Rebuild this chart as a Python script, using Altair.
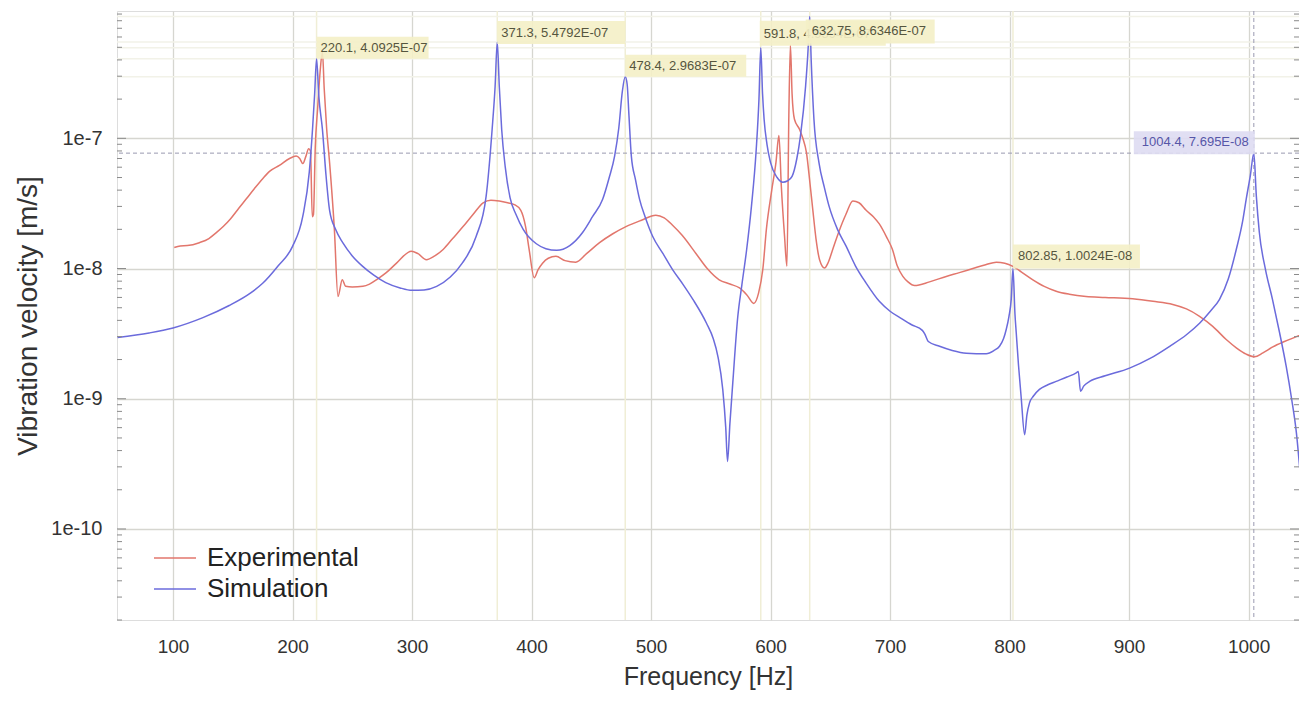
import altair as alt
import pandas as pd

# ---------------- data ----------------
sim_f = [53.6, 80, 100, 125, 147, 165, 175, 188, 200, 208.5, 214, 216.7, 218.5, 220.1, 222, 225,
         228, 231, 236, 242, 250, 258.7, 268, 278, 290, 300, 310, 320.6, 332, 342, 353.6, 362,
         367, 369.5, 371.3, 373, 375, 378, 382, 387, 393, 404, 412, 421, 432, 442.7, 451, 459.5,
         465, 469.5, 473, 476, 478.4, 480, 481.5, 483.5, 487, 490.4, 495, 501.3, 510, 518, 527,
         535, 546.4, 552, 556, 560, 562.5, 564, 566, 568.4, 572.6, 576, 580, 584, 588, 590.3,
         591.8, 593.3, 594.6, 597, 600, 605.5, 610.3, 614, 618, 622, 625, 629.3, 631.5, 632.75,
         634, 636.3, 640.5, 645, 649, 656, 663, 671, 679.7, 691, 700, 710, 718, 727, 729, 732,
         741.4, 752, 763.8, 780.5, 787, 791.6, 795, 797.2, 799.5, 801.4, 802.85, 804.5, 805.6,
         807.5, 809.8, 812.6, 814.5, 816.7, 820, 825, 832, 839, 848, 855.8, 857.5, 859.4, 862,
         867, 880, 900.4, 918, 934, 948, 959, 968, 975.7, 983, 989.7, 995, 998, 1001.5, 1004.4,
         1006.5, 1009, 1014, 1020, 1026, 1031.5, 1036, 1040, 1043, 1045.7]
sim_v = [2.95e-9, 3.2e-9, 3.5e-9, 4.2e-9, 5.2e-9, 6.5e-9, 7.7e-9, 1.05e-8, 1.48e-8, 2.5e-8,
         5.5e-8, 1.17e-7, 2.2e-7, 4.0925e-7, 2.1e-7, 1.17e-7,
         5.2e-8, 2.8e-8, 2.0e-8, 1.58e-8, 1.25e-8, 1.04e-8, 8.9e-9, 7.8e-9, 7.1e-9, 6.8e-9,
         6.85e-9, 7.3e-9, 8.6e-9, 1.1e-8, 1.76e-8, 3.6e-8,
         1.17e-7, 2.5e-7, 5.4792e-7, 2.5e-7, 1.17e-7, 6.0e-8, 3.5e-8, 2.6e-8, 2.0e-8, 1.55e-8,
         1.42e-8, 1.38e-8, 1.5e-8, 1.89e-8, 2.5e-8, 3.4e-8,
         5.0e-8, 7.3e-8, 1.2e-7, 2.3e-7, 2.9683e-7, 2.6e-7, 1.5e-7, 7.3e-8, 4.8e-8, 3.4e-8,
         2.5e-8, 1.77e-8, 1.3e-8, 9.8e-9, 7.5e-9,
         5.8e-9, 3.8e-9, 2.9e-9, 2.1e-9, 1.18e-9, 6.0e-10, 3.3e-10, 6.5e-10, 1.33e-9, 4.3e-9,
         7.5e-9, 1.4e-8, 3.0e-8, 8.2e-8, 2.0e-7,
         4.9594e-7, 2.2e-7, 1.4e-7, 9.0e-8, 6.5e-8, 5.0e-8, 4.6e-8, 4.7e-8, 5.1e-8, 7.0e-8,
         1.04e-7, 2.5e-7, 5.0e-7, 8.6346e-7,
         4.0e-7, 1.4e-7, 6.5e-8, 4.2e-8, 3.0e-8, 2.0e-8, 1.5e-8, 1.05e-8, 7.8e-9, 5.6e-9,
         4.7e-9, 4.1e-9, 3.7e-9, 3.35e-9, 3.15e-9, 2.75e-9,
         2.53e-9, 2.35e-9, 2.24e-9, 2.22e-9, 2.35e-9, 2.53e-9, 2.9e-9, 3.4e-9, 4.3e-9, 5.8e-9,
         1.0024e-8, 4.5e-9, 3.2e-9,
         1.8e-9, 1.0e-9, 5.3e-10, 7.5e-10, 9.3e-10, 1.05e-9, 1.18e-9, 1.28e-9, 1.36e-9, 1.47e-9,
         1.58e-9, 1.62e-9, 1.14e-9, 1.25e-9,
         1.36e-9, 1.5e-9, 1.72e-9, 2.05e-9, 2.53e-9, 3.1e-9, 3.8e-9, 4.7e-9, 5.8e-9, 8.3e-9,
         1.4e-8, 2.3e-8, 3.4e-8, 5.2e-8, 7.695e-8,
         3.6e-8, 1.9e-8, 1.0e-8, 5.8e-9, 3.2e-9, 1.77e-9, 1.0e-9, 5.5e-10, 2.8e-10, 1.4e-10]

exp_f = [101, 106, 112, 122, 130, 136, 142, 148, 155, 161, 168, 175, 181, 189, 197.5, 203, 206,
         208.6, 211, 213.5, 215, 216.5, 217.5, 219, 221, 223, 225, 226.5, 228.5, 231, 235, 238,
         241.6, 244.4, 250, 258.9, 264.4, 271, 278.4, 287, 299.4, 305, 312, 319, 326, 334, 342.7,
         351, 359.5, 366, 373, 380, 385.6, 391, 395, 398, 402.2, 405.5, 409.2, 414, 420.4, 428,
         437, 446, 456.9, 468, 479, 492, 504, 511, 518, 526, 537.7, 547, 557, 566, 574, 580, 586,
         590, 593.6, 596.5, 601, 604.5, 607, 609, 611.7, 613.7, 615.3, 616.6, 618, 620,
         624.3, 627, 630, 633, 635.4, 638, 641, 645.2, 648, 652, 657, 663, 668.9, 674, 680, 686,
         691, 697, 702, 706, 710.7, 715, 720.5, 733, 747, 758, 769.3, 780, 788.9, 796, 802.8,
         810, 819.5, 829, 839, 850, 864, 880, 903, 920, 936.6, 948, 959, 970, 981.3, 990, 998,
         1005, 1012, 1020.3, 1030, 1040, 1047]
exp_v = [1.45e-8, 1.49e-8, 1.5e-8, 1.58e-8, 1.7e-8, 1.88e-8, 2.1e-8, 2.4e-8, 2.9e-8, 3.4e-8,
         4.1e-8, 4.9e-8, 5.6e-8, 6.2e-8, 7.0e-8, 7.3e-8, 7.0e-8,
         6.4e-8, 7.2e-8, 8.3e-8, 8.0e-8, 2.5e-8, 2.6e-8, 8.5e-8, 1.7e-7, 3.2e-7, 4.6e-7, 2.4e-7,
         1.2e-7, 6.5e-8, 2.0e-8, 6.1e-9,
         8.2e-9, 7.3e-9, 7.2e-9, 7.3e-9, 7.6e-9, 8.3e-9, 9.3e-9, 1.1e-8, 1.36e-8, 1.3e-8,
         1.17e-8, 1.25e-8, 1.4e-8, 1.7e-8, 2.1e-8,
         2.6e-8, 3.2e-8, 3.35e-8, 3.3e-8, 3.2e-8, 3.1e-8, 2.8e-8, 2.1e-8, 1.4e-8, 8.5e-9,
         9.8e-9, 1.1e-8, 1.2e-8, 1.24e-8, 1.15e-8,
         1.12e-8, 1.3e-8, 1.58e-8, 1.85e-8, 2.1e-8, 2.35e-8, 2.57e-8, 2.45e-8, 2.15e-8, 1.8e-8,
         1.3e-8, 1.0e-8, 8.2e-9, 7.6e-9, 7.1e-9, 6.3e-9, 5.4e-9,
         6.5e-9, 1.0e-8, 2.0e-8, 4.0e-8, 6.5e-8, 1.05e-7, 4.3e-8, 1.77e-8, 1.04e-8,
         1.5e-7, 5.2e-7, 2.2e-7, 1.4e-7,
         1.17e-7, 1.0e-7, 7.8e-8, 4.5e-8, 2.8e-8, 1.7e-8, 1.17e-8, 1.01e-8, 1.1e-8, 1.4e-8,
         1.9e-8, 2.6e-8, 3.3e-8, 3.2e-8, 2.8e-8, 2.5e-8,
         2.2e-8, 1.75e-8, 1.4e-8, 1.05e-8, 8.7e-9, 7.9e-9, 7.4e-9, 7.9e-9, 8.7e-9, 9.3e-9,
         1.0e-8, 1.07e-8, 1.12e-8, 1.1e-8, 1.04e-8,
         9.4e-9, 8.2e-9, 7.3e-9, 6.7e-9, 6.35e-9, 6.1e-9, 6.0e-9, 5.85e-9, 5.6e-9, 5.3e-9,
         4.9e-9, 4.3e-9, 3.6e-9, 2.85e-9, 2.45e-9, 2.2e-9,
         2.1e-9, 2.25e-9, 2.5e-9, 2.75e-9, 3.0e-9, 3.2e-9]

series_names = ["Experimental", "Simulation"]

marker_f = [220.1, 371.3, 478.4, 591.8, 632.75, 802.85, 1004.4]
marker_v = [4.0925e-7, 5.4792e-7, 2.9683e-7, 4.9594e-7, 8.6346e-7, 1.0024e-8, 7.695e-8]
marker_text = ["220.1, 4.0925E-07", "371.3, 5.4792E-07", "478.4, 2.9683E-07",
               "591.8, 4.9594E-07", "632.75, 8.6346E-07", "802.85, 1.0024E-08",
               "1004.4, 7.695E-08"]

x_ticks = [100, 200, 300, 400, 500, 600, 700, 800, 900, 1000]
y_ticks = [1e-10, 1e-9, 1e-8, 1e-7]

# ---------------- layout / style ----------------
W, H = 1182, 609
X_DOM = [53.1, 1042.2]
Y_DOM = [2e-11, 9.5e-7]
RED = "#e2766c"
BLUE = "#6b6bdc"
GRID = "#d6d6d0"
FONT = "Liberation Sans"

curves = pd.concat([
    pd.DataFrame({"f": exp_f, "v": exp_v, "series": series_names[0]}),
    pd.DataFrame({"f": sim_f, "v": sim_v, "series": series_names[1]}),
])
markers = pd.DataFrame({"f": marker_f, "v": marker_v, "label": marker_text})

xs = alt.Scale(domain=X_DOM, nice=False, zero=False)
ys = alt.Scale(type="log", domain=Y_DOM, nice=False)

X = alt.X("f:Q", scale=xs, title="Frequency [Hz]",
          axis=alt.Axis(values=x_ticks, format="d", grid=True, gridColor=GRID, gridWidth=1.3,
                        domain=False, ticks=False, labelFont=FONT, labelFontSize=19,
                        labelColor="#333", labelPadding=17, labelFlush=False,
                        titleFont=FONT, titleFontSize=25, titleFontWeight="normal",
                        titleColor="#333", titleY=56, titleBaseline="middle"))
Y = alt.Y("v:Q", scale=ys, title="Vibration velocity [m/s]",
          axis=alt.Axis(values=y_ticks, grid=True, gridColor=GRID, gridWidth=1.3,
                        domain=False, ticks=False,
                        labelExpr="'1e' + round(log(datum.value)/LN10)",
                        labelFont=FONT, labelFontSize=20, labelColor="#333", labelPadding=15,
                        titleFont=FONT, titleFontSize=28, titleFontWeight="normal",
                        titleColor="#333", titleX=-89, titleY=H / 2, titleAngle=270,
                        titleBaseline="middle", titleAlign="center"))

# faint marker guide lines
mk_v = alt.Chart(markers.iloc[:6]).mark_rule(color="#f0eed6", strokeWidth=1.5).encode(
    x=alt.X("f:Q", scale=xs))
mk_h = alt.Chart(markers.iloc[:5]).mark_rule(color="#f2f2e8", strokeWidth=1.5).encode(
    y=alt.Y("v:Q", scale=ys))
dash_v = alt.Chart(markers.iloc[6:]).mark_rule(color="#9a9ab0", strokeWidth=1,
                                               strokeDash=[4, 3]).encode(
    x=alt.X("f:Q", scale=xs))
dash_h = alt.Chart(markers.iloc[6:]).mark_rule(color="#9a9ab0", strokeWidth=1,
                                               strokeDash=[4, 3]).encode(
    y=alt.Y("v:Q", scale=ys))

# inward minor/major ticks on left and right frame
tick_major = pd.DataFrame({"v": y_ticks})
tick_minor = pd.DataFrame({"v": [m * 10.0 ** e for e in range(-11, -6) for m in range(2, 10)
                                  if Y_DOM[0] <= m * 10.0 ** e <= Y_DOM[1]]})
tk = []
for df, ln in ((tick_major, 9), (tick_minor, 5)):
    tk.append(alt.Chart(df).mark_rule(color="#8a8a8a", strokeWidth=1).encode(
        y=alt.Y("v:Q", scale=ys), x=alt.value(0), x2=alt.value(ln)))
    tk.append(alt.Chart(df).mark_rule(color="#8a8a8a", strokeWidth=1).encode(
        y=alt.Y("v:Q", scale=ys), x=alt.value(W - ln), x2=alt.value(W)))

lines = alt.Chart(curves).mark_line(strokeWidth=1.5, interpolate="monotone", clip=True).encode(
    x=X, y=Y,
    color=alt.Color("series:N",
                    scale=alt.Scale(domain=series_names, range=[RED, BLUE]),
                    legend=alt.Legend(title=None, orient="none", legendX=36, legendY=535,
                                      symbolType="stroke", symbolSize=1764,
                                      symbolStrokeWidth=1.6, clipHeight=24, rowPadding=5,
                                      labelFont=FONT, labelFontSize=26, labelColor="#222",
                                      labelOffset=10, padding=0)),
    order=alt.Order("f:Q"),
)

# annotation boxes: (x0, x1, y0, y1) pixel box relative to the peak, text dx, dy, align
box_geom = [
    (0, 112, -22, 0, 4, -11, "left"),
    (0, 128, -21, 2, 4, -9.5, "left"),
    (0, 121, -22, 0, 4, -11, "left"),
    (-1, 125, -27, -2, 3, -14, "left"),
    (-4, 125, 3, 27, 2, 15, "left"),
    (0, 127, -24, 0, 5, -12, "left"),
    (-120, 1, -22, 1, -5, -11, "right"),
]
ann = []
for i, (x0, x1, y0, y1, tdx, tdy, al) in enumerate(box_geom):
    last = i == len(box_geom) - 1
    d = markers.iloc[i:i + 1]
    fill = "#dedcf2" if last else "#f4f0c6"
    tcol = "#5656a8" if last else "#55553e"
    ann.append(alt.Chart(d).mark_rect(color=fill, opacity=0.9, xOffset=x0, x2Offset=x1,
                                      yOffset=y0, y2Offset=y1).encode(
        x=alt.X("f:Q", scale=xs), x2="f", y=alt.Y("v:Q", scale=ys), y2="v"))
    ann.append(alt.Chart(d).mark_text(align=al, baseline="middle", dx=tdx, dy=tdy,
                                      font=FONT, fontSize=13, color=tcol).encode(
        x=alt.X("f:Q", scale=xs), y=alt.Y("v:Q", scale=ys), text="label:N"))

chart = alt.layer(mk_v, mk_h, dash_v, dash_h, lines, *tk, *ann).properties(
    width=W, height=H,
    padding={"left": 109, "top": 3, "right": 0, "bottom": 70},
    autosize=alt.AutoSizeParams(type="none"),
).configure_view(stroke="#7c7c7c", strokeWidth=1.5).configure(background="white")

chart.save("out.html", embed_options={"renderer": "svg", "actions": False})
